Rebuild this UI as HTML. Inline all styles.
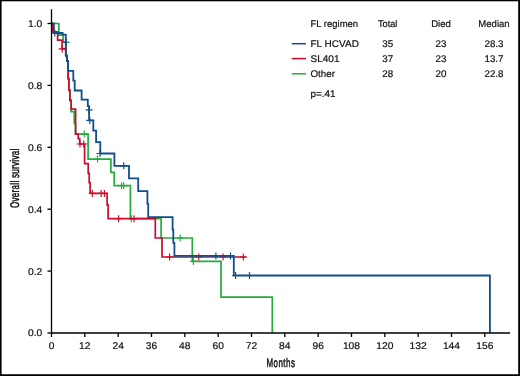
<!DOCTYPE html>
<html><head><meta charset="utf-8"><title>Overall survival</title>
<style>
html,body{margin:0;padding:0;background:#fff;}
body{width:520px;height:376px;overflow:hidden;position:relative;font-family:"Liberation Sans",sans-serif;}
svg{position:absolute;left:0;top:0;display:block}
text{font-family:"Liberation Sans",sans-serif;font-size:9.8px;fill:#111;stroke:#111;stroke-width:0.2px;text-rendering:geometricPrecision;}
.lg text{font-size:9.7px}
</style></head><body>
<svg width="520" height="376" viewBox="0 0 520 376">
<rect x="0" y="0" width="520" height="376" fill="#fff"/>
<rect x="0" y="0" width="520" height="1.3" fill="#000"/>
<rect x="0" y="0" width="1.6" height="376" fill="#000"/>
<rect x="518.2" y="0" width="1.8" height="376" fill="#000"/>
<rect x="0" y="374.25" width="520" height="1.75" fill="#000"/>
<g fill="none" stroke-linejoin="miter" stroke-linecap="butt">
<path d="M51.5,23.5 H58.8 V35.2 H63.2 V42.2 H65.8 V55.7 H66.9 V61.2 H68.1 V78.6 H68.9 V90.2 H69.9 V100.4 H71.1 V111.7 H74.3 V123.3 H75.5 V134.1 H88.1 V159.1 H110.9 V172.4 H114.2 V185.7 H130.4 V218.7 H161.1 V238 H192.3 V261.4 H221 V297.2 H272.3 V333" stroke="#27aa3c" stroke-width="1.7"/>
<path d="M80.8,134.1h7.0M84.3,130.6v7.0 M94.0,159.1h7.0M97.5,155.6v7.0 M118.1,185.7h7.0M121.6,182.2v7.0 M120.2,185.7h7.0M123.7,182.2v7.0 M127.8,218.7h7.0M131.3,215.2v7.0 M176.7,238h7.0M180.2,234.5v7.0 M189.9,261.4h7.0M193.4,257.9v7.0" stroke="#27aa3c" stroke-width="1.15"/>
<path d="M51.5,23.5 H52.5 V31.8 H57.6 V40.2 H62.1 V48.8 H65.8 V55.7 H66.9 V61.2 H68.1 V78.6 H68.9 V90.2 H69.9 V100.4 H71.2 V109.1 H75.6 V134.1 H78.2 V138.7 H79.7 V144 H84.6 V163.7 H88.2 V173.3 H89.2 V182.6 H90.1 V193.4 H107.1 V204.8 H108.1 V218.7 H155.3 V238 H162 V257 H246.3" stroke="#cb0c2f" stroke-width="1.7"/>
<path d="M58.7,48.9h7.0M62.2,45.4v7.0 M76.5,144h7.0M80,140.5v7.0 M80.2,144h7.0M83.7,140.5v7.0 M88.8,193.4h7.0M92.3,189.9v7.0 M97.7,193.4h7.0M101.2,189.9v7.0 M100.9,193.4h7.0M104.4,189.9v7.0 M115.1,218.7h7.0M118.6,215.2v7.0 M130.5,218.7h7.0M134,215.2v7.0 M166.1,257h7.0M169.6,253.5v7.0 M195.3,257h7.0M198.8,253.5v7.0 M219.6,257h7.0M223.1,253.5v7.0 M239.8,257h7.0M243.3,253.5v7.0" stroke="#cb0c2f" stroke-width="1.15"/>
<path d="M51.5,23.5 H53.9 V33 H62.6 V34.7 H65.8 V55.7 H66.9 V61.2 H68.1 V70.8 H73.3 V80.6 H74.7 V90.5 H81.6 V99.6 H87.8 V106.1 H89.1 V120.3 H93.3 V130.7 H96.1 V142.2 H100.3 V153.5 H114.4 V165.8 H129 V178.3 H138.2 V191.1 H147.4 V203.7 H148.2 V217.1 H172.6 V229.7 H173.3 V242.9 H174.4 V255.9 H233.8 V275.5 H489.9 V333" stroke="#114e8b" stroke-width="1.8"/>
<path d="M51.3,33h7.0M54.8,29.5v7.0 M62.7,42.2h7.0M66.2,38.7v7.0 M85.6,109.9h7.0M89.1,106.4v7.0 M86.3,120.4h7.0M89.8,116.9v7.0 M96.5,153.5h7.0M100,150.0v7.0 M120.2,165.8h7.0M123.7,162.3v7.0 M212.4,255.9h7.0M215.9,252.4v7.0 M227.0,255.9h7.0M230.5,252.4v7.0 M232.1,275.5h7.0M235.6,272.0v7.0 M246.0,275.5h7.0M249.5,272.0v7.0" stroke="#114e8b" stroke-width="1.15"/>
</g>
<g stroke="#000" stroke-width="1.3" fill="none">
<path d="M51.5,9.3V333.0"/><path d="M51.0,333.0H510"/>
<path d="M51.50,333.0v4"/><path d="M84.83,333.0v4"/><path d="M118.17,333.0v4"/><path d="M151.50,333.0v4"/><path d="M184.83,333.0v4"/><path d="M218.16,333.0v4"/><path d="M251.50,333.0v4"/><path d="M284.83,333.0v4"/><path d="M318.16,333.0v4"/><path d="M351.50,333.0v4"/><path d="M384.83,333.0v4"/><path d="M418.16,333.0v4"/><path d="M451.50,333.0v4"/><path d="M484.83,333.0v4"/>
<path d="M51.5,333.00h-4"/><path d="M51.5,271.10h-4"/><path d="M51.5,209.20h-4"/><path d="M51.5,147.30h-4"/><path d="M51.5,85.40h-4"/><path d="M51.5,23.50h-4"/>
</g>
<g><text x="51.50" y="349.4" text-anchor="middle" textLength="5.7" lengthAdjust="spacingAndGlyphs">0</text><text x="84.83" y="349.4" text-anchor="middle" textLength="11.4" lengthAdjust="spacingAndGlyphs">12</text><text x="118.17" y="349.4" text-anchor="middle" textLength="11.4" lengthAdjust="spacingAndGlyphs">24</text><text x="151.50" y="349.4" text-anchor="middle" textLength="11.4" lengthAdjust="spacingAndGlyphs">36</text><text x="184.83" y="349.4" text-anchor="middle" textLength="11.4" lengthAdjust="spacingAndGlyphs">48</text><text x="218.16" y="349.4" text-anchor="middle" textLength="11.4" lengthAdjust="spacingAndGlyphs">60</text><text x="251.50" y="349.4" text-anchor="middle" textLength="11.4" lengthAdjust="spacingAndGlyphs">72</text><text x="284.83" y="349.4" text-anchor="middle" textLength="11.4" lengthAdjust="spacingAndGlyphs">84</text><text x="318.16" y="349.4" text-anchor="middle" textLength="11.4" lengthAdjust="spacingAndGlyphs">96</text><text x="351.50" y="349.4" text-anchor="middle" textLength="17.2" lengthAdjust="spacingAndGlyphs">108</text><text x="384.83" y="349.4" text-anchor="middle" textLength="17.2" lengthAdjust="spacingAndGlyphs">120</text><text x="418.16" y="349.4" text-anchor="middle" textLength="17.2" lengthAdjust="spacingAndGlyphs">132</text><text x="451.50" y="349.4" text-anchor="middle" textLength="17.2" lengthAdjust="spacingAndGlyphs">144</text><text x="484.83" y="349.4" text-anchor="middle" textLength="17.2" lengthAdjust="spacingAndGlyphs">156</text></g>
<g><text x="42.3" y="336.40" text-anchor="end" textLength="14.3" lengthAdjust="spacingAndGlyphs">0.0</text><text x="42.3" y="274.50" text-anchor="end" textLength="14.3" lengthAdjust="spacingAndGlyphs">0.2</text><text x="42.3" y="212.60" text-anchor="end" textLength="14.3" lengthAdjust="spacingAndGlyphs">0.4</text><text x="42.3" y="150.70" text-anchor="end" textLength="14.3" lengthAdjust="spacingAndGlyphs">0.6</text><text x="42.3" y="88.80" text-anchor="end" textLength="14.3" lengthAdjust="spacingAndGlyphs">0.8</text><text x="42.3" y="26.90" text-anchor="end" textLength="14.3" lengthAdjust="spacingAndGlyphs">1.0</text></g>
<text transform="translate(280.9,366.7) scale(0.64,1)" text-anchor="middle" style="font-size:12.4px;stroke-width:0.5px;letter-spacing:0.75px">Months</text>
<text transform="translate(19.3,178.2) rotate(-90) scale(0.64,1)" text-anchor="middle" style="font-size:12.5px;stroke-width:0.5px;letter-spacing:0.47px">Overall survival</text>
<g class="lg">
<text x="310.5" y="26.9" textLength="47.6" lengthAdjust="spacingAndGlyphs">FL regimen</text>
<text x="387.7" y="26.9" text-anchor="middle" textLength="19.4" lengthAdjust="spacingAndGlyphs">Total</text>
<text x="441" y="26.9" text-anchor="middle" textLength="19.7" lengthAdjust="spacingAndGlyphs">Died</text>
<text x="494" y="26.9" text-anchor="middle" textLength="31.3" lengthAdjust="spacingAndGlyphs">Median</text>
<text x="310.5" y="46.7" textLength="48.4" lengthAdjust="spacingAndGlyphs">FL HCVAD</text>
<text x="387.7" y="46.7" text-anchor="middle" textLength="10.9" lengthAdjust="spacingAndGlyphs">35</text>
<text x="441" y="46.7" text-anchor="middle" textLength="10.9" lengthAdjust="spacingAndGlyphs">23</text>
<text x="494" y="46.7" text-anchor="middle" textLength="19" lengthAdjust="spacingAndGlyphs">28.3</text>
<text x="310.5" y="61.7" textLength="29" lengthAdjust="spacingAndGlyphs">SL401</text>
<text x="387.7" y="61.7" text-anchor="middle" textLength="10.9" lengthAdjust="spacingAndGlyphs">37</text>
<text x="441" y="61.7" text-anchor="middle" textLength="10.9" lengthAdjust="spacingAndGlyphs">23</text>
<text x="494" y="61.7" text-anchor="middle" textLength="19" lengthAdjust="spacingAndGlyphs">13.7</text>
<text x="310.5" y="77.0" textLength="24.5" lengthAdjust="spacingAndGlyphs">Other</text>
<text x="387.7" y="77.0" text-anchor="middle" textLength="10.9" lengthAdjust="spacingAndGlyphs">28</text>
<text x="441" y="77.0" text-anchor="middle" textLength="10.9" lengthAdjust="spacingAndGlyphs">20</text>
<text x="494" y="77.0" text-anchor="middle" textLength="19" lengthAdjust="spacingAndGlyphs">22.8</text>
<text x="310.5" y="96.8" textLength="25" lengthAdjust="spacingAndGlyphs">p=.41</text>
</g>
<g stroke-width="1.5" fill="none">
<path d="M291.8,43.7H306" stroke="#114e8b"/>
<path d="M291.8,58.6H306" stroke="#cb0c2f"/>
<path d="M291.8,73.8H306" stroke="#27aa3c"/>
</g>
</svg>
</body></html>
